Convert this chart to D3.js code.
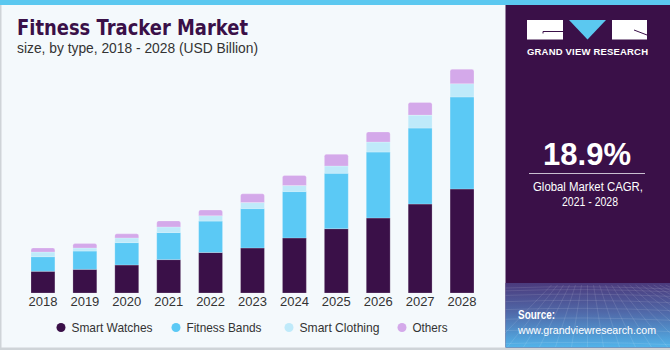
<!DOCTYPE html>
<html>
<head>
<meta charset="utf-8">
<script src="https://cdn.jsdelivr.net/npm/d3@7"></script>
<style>
  body { margin: 0; padding: 0; background: #fff; }
  svg { display: block; font-family: "Liberation Sans", Arial, sans-serif; }
</style>
</head>
<body>
<div id="chart"></div>
<script>
// 年份與各類別數值 (USD Billion)
const years = ["2018", "2019", "2020", "2021", "2022", "2023", "2024", "2025", "2026", "2027", "2028"];
const smartWatches  = [13.4, 14.6, 17.3, 20.6, 25.0, 27.8, 34.0, 39.7, 46.3, 54.9, 64.2];
const fitnessBands  = [9.0, 11.3, 13.8, 16.7, 19.4, 24.3, 28.6, 34.2, 40.7, 46.9, 56.8];
const smartClothing = [2.9, 1.9, 2.9, 3.5, 3.3, 3.7, 3.7, 4.5, 6.2, 8.0, 8.2];
const others        = [2.5, 2.7, 2.5, 3.7, 3.5, 5.4, 6.2, 7.2, 6.2, 7.8, 8.9];
const seriesNames = ["Smart Watches", "Fitness Bands", "Smart Clothing", "Others"];
const seriesColors = ["#3a1048", "#5bc9f5", "#bfeafa", "#d4a9ea"];

const W = 670, H = 350;
const svg = d3.select("#chart").append("svg")
    .attr("width", W)
    .attr("height", H);

// 背景
svg.append("rect").attr("x", 0).attr("y", 0).attr("width", W).attr("height", H).attr("fill", "#f4f9fc");
svg.append("rect").attr("x", 0).attr("y", 0).attr("width", 1.5).attr("height", H).attr("fill", "#cfd4d8");
svg.append("rect").attr("x", 0).attr("y", 347.5).attr("width", W).attr("height", 2.5).attr("fill", "#cfd4d8");
svg.append("rect").attr("x", 0).attr("y", 0).attr("width", W).attr("height", 5).attr("fill", "#5bc8f0");

// 右側面板
const panelX = 505.5;
const defs = svg.append("defs");
const grad = defs.append("linearGradient").attr("id", "srcGrad")
    .attr("x1", 0).attr("y1", 0).attr("x2", 0).attr("y2", 1);
grad.append("stop").attr("offset", "0%").attr("stop-color", "#4b3a7c");
grad.append("stop").attr("offset", "45%").attr("stop-color", "#5068a8");
grad.append("stop").attr("offset", "100%").attr("stop-color", "#52b4ea");

svg.append("rect").attr("x", panelX).attr("y", 5).attr("width", W - panelX).attr("height", 342.5).attr("fill", "#3a1048");
svg.append("rect").attr("x", panelX).attr("y", 283).attr("width", W - panelX).attr("height", 64.5).attr("fill", "url(#srcGrad)");

// 網格紋理
const gridG = svg.append("g").attr("stroke", "#ffffff").attr("stroke-opacity", 0.18).attr("stroke-width", 0.6).attr("fill", "none");
for (let i = 0; i < 9; i++) {
    const yy = 288 + i * i * 0.85 + i * 2;
    gridG.append("path").attr("d", `M${panelX},${yy} Q${panelX + 80},${yy - 3} ${W},${yy + 1}`);
}
for (let i = -6; i <= 14; i++) {
    const xTop = panelX + 82 + i * 6;
    const xBot = panelX + 82 + i * 16;
    gridG.append("line").attr("x1", xTop).attr("y1", 285).attr("x2", xBot).attr("y2", 347);
}

// Logo
const logo = svg.append("g");
logo.append("rect").attr("x", 527).attr("y", 20).attr("width", 36).attr("height", 19.5).attr("fill", "#fff");
logo.append("path").attr("d", "M543,33.5 L543,31.5 L563,31.5").attr("stroke", "#3a1048").attr("stroke-width", 1).attr("fill", "none");
logo.append("path").attr("d", "M569,20 L606,20 L587.5,39.5 Z").attr("fill", "#5bc8f0");
logo.append("rect").attr("x", 612).attr("y", 20).attr("width", 35).attr("height", 19.5).attr("fill", "#fff");
logo.append("path").attr("d", "M634,30 L647,35").attr("stroke", "#3a1048").attr("stroke-width", 1);
logo.append("text").attr("x", 527).attr("y", 55)
    .attr("fill", "#fff").style("font-size", "9.5px").style("font-weight", "bold")
    .attr("textLength", 121).attr("lengthAdjust", "spacing")
    .text("GRAND VIEW RESEARCH");

// CAGR
svg.append("text").attr("x", 587).attr("y", 165).attr("text-anchor", "middle")
    .attr("fill", "#fff").style("font-size", "31px").style("font-weight", "bold")
    .text("18.9%");
svg.append("line").attr("x1", 529).attr("x2", 645).attr("y1", 173.5).attr("y2", 173.5)
    .attr("stroke", "#c9bfd0").attr("stroke-width", 1);
svg.append("text").attr("x", 533).attr("y", 191)
    .attr("fill", "#fff").style("font-size", "12.5px")
    .attr("textLength", 110).attr("lengthAdjust", "spacingAndGlyphs")
    .text("Global Market CAGR,");
svg.append("text").attr("x", 562).attr("y", 206)
    .attr("fill", "#fff").style("font-size", "12.5px")
    .attr("textLength", 56).attr("lengthAdjust", "spacingAndGlyphs")
    .text("2021 - 2028");

// Source
svg.append("text").attr("x", 518).attr("y", 319).attr("fill", "#fff")
    .style("font-size", "12.5px").style("font-weight", "bold")
    .attr("textLength", 37).attr("lengthAdjust", "spacingAndGlyphs")
    .text("Source:");
svg.append("text").attr("x", 518).attr("y", 334).attr("fill", "#fff")
    .style("font-size", "11px")
    .attr("textLength", 138).attr("lengthAdjust", "spacingAndGlyphs")
    .text("www.grandviewresearch.com");

// 標題
svg.append("text").attr("x", 17).attr("y", 35).attr("fill", "#3a1048")
    .style("font-size", "22px").style("font-weight", "bold")
    .style("font-family", "'DejaVu Sans', sans-serif")
    .attr("textLength", 231).attr("lengthAdjust", "spacingAndGlyphs")
    .text("Fitness Tracker Market");
svg.append("text").attr("x", 17).attr("y", 53).attr("fill", "#333")
    .style("font-size", "14px")
    .attr("textLength", 241).attr("lengthAdjust", "spacingAndGlyphs")
    .text("size, by type, 2018 - 2028 (USD Billion)");

// 堆疊資料
const rows = years.map((yr, i) => ({
    year: yr,
    "Smart Watches": smartWatches[i],
    "Fitness Bands": fitnessBands[i],
    "Smart Clothing": smartClothing[i],
    "Others": others[i]
}));
const stacked = d3.stack().keys(seriesNames)(rows);

// 比例尺
const baseY = 293;
const x = d3.scaleBand().domain(years).range([13, 492]).padding(0.43);
const y = d3.scaleLinear().domain([0, 140]).range([baseY, baseY - 140 * 1.62]);

const barG = svg.append("g");
stacked.forEach((layer, li) => {
    const isTop = li === stacked.length - 1;
    barG.append("g")
        .selectAll("path")
        .data(layer)
        .enter()
        .append("path")
        .attr("fill", seriesColors[li])
        .attr("stroke", "#ffffff")
        .attr("stroke-opacity", 0.35)
        .attr("stroke-width", 0.6)
        .attr("d", d => {
            const x0 = x(d.data.year), x1 = x0 + x.bandwidth();
            const y0 = y(d[0]), y1 = y(d[1]);
            if (!isTop) return `M${x0},${y0}L${x0},${y1}L${x1},${y1}L${x1},${y0}Z`;
            const r = 2;
            return `M${x0},${y0}L${x0},${y1 + r}Q${x0},${y1} ${x0 + r},${y1}L${x1 - r},${y1}Q${x1},${y1} ${x1},${y1 + r}L${x1},${y0}Z`;
        });
});

// x 軸標籤
const xAxis = svg.append("g")
    .attr("transform", `translate(0,${baseY})`)
    .call(d3.axisBottom(x).tickSize(0).tickPadding(4));
xAxis.select(".domain").remove();
xAxis.selectAll("text")
    .style("font-size", "13px")
    .style("font-family", "'Liberation Sans', Arial, sans-serif")
    .attr("fill", "#333");

// 圖例
const legendX = [61, 176, 289, 402];
const legendLen = [81, 75, 80, 35];
const legend = svg.append("g");
seriesNames.forEach((name, i) => {
    legend.append("circle").attr("cx", legendX[i]).attr("cy", 327.5).attr("r", 4.5).attr("fill", seriesColors[i]);
    legend.append("text").attr("x", legendX[i] + 10.5).attr("y", 332).attr("fill", "#333")
        .style("font-size", "13px")
        .attr("textLength", legendLen[i]).attr("lengthAdjust", "spacingAndGlyphs")
        .text(name);
});
</script>
</body>
</html>
